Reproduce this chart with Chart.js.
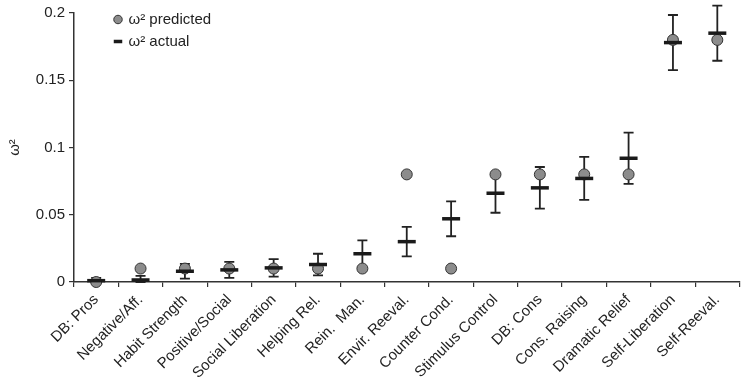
<!DOCTYPE html>
<html>
<head>
<meta charset="utf-8">
<script src="https://cdn.jsdelivr.net/npm/chart.js@4"></script>
<style>
  body { margin: 0; background: #fff; }
  #wrap { width: 752px; height: 387px; }
</style>
</head>
<body>
<div id="wrap"><canvas id="omega" width="752" height="387"></canvas></div>
<script>
var categories = ['DB: Pros', 'Negative/Aff.', 'Habit Strength', 'Positive/Social', 'Social Liberation',
  'Helping Rel.', 'Rein.  Man.', 'Envir. Reeval.', 'Counter Cond.', 'Stimulus Control',
  'DB: Cons', 'Cons. Raising', 'Dramatic Relief', 'Self-Liberation', 'Self-Reeval.'];
var predicted = [0, 0.01, 0.01, 0.01, 0.01, 0.01, 0.01, 0.08, 0.01, 0.08, 0.08, 0.08, 0.08, 0.18, 0.18];
var actual = [0.001, 0.0015, 0.008, 0.009, 0.0105, 0.013, 0.021, 0.030, 0.047, 0.066, 0.070, 0.077, 0.092, 0.178, 0.185];
var actualErr = [0.002, 0.003, 0.0055, 0.006, 0.0065, 0.008, 0.010, 0.011, 0.013, 0.0145, 0.0155, 0.016, 0.019, 0.0205, 0.0205];
var yTicks = [0, 0.05, 0.1, 0.15, 0.2];

var ink = '#222';
var fam = 'Liberation Sans, Arial, sans-serif';

// error bars on the actual values, drawn under the markers
var errorBars = {
  id: 'errorBars',
  beforeDatasetsDraw: function(chart) {
    var meta = chart.getDatasetMeta(0);
    var y = chart.scales.y;
    var ctx = chart.ctx;
    ctx.save();
    ctx.strokeStyle = ink;
    ctx.lineWidth = 1.8;
    meta.data.forEach(function(pt, i) {
      var top = y.getPixelForValue(actual[i] + actualErr[i]);
      var bot = y.getPixelForValue(Math.max(0, actual[i] - actualErr[i]));
      ctx.beginPath();
      ctx.moveTo(pt.x, top); ctx.lineTo(pt.x, bot);
      ctx.moveTo(pt.x - 5, top); ctx.lineTo(pt.x + 5, top);
      ctx.moveTo(pt.x - 5, bot); ctx.lineTo(pt.x + 5, bot);
      ctx.stroke();
    });
    ctx.restore();
  }
};

// move the legend box a bit into the plot
var legendShift = {
  id: 'legendShift',
  afterLayout: function(chart) {
    if (chart.legend) {
      chart.legend.left += 34;
      chart.legend.top += 5;
    }
  }
};

new Chart(document.getElementById('omega'), {
  type: 'line',
  data: {
    labels: categories,
    datasets: [
      {
        label: 'ω² actual',
        data: actual,
        showLine: false,
        clip: false,
        pointStyle: 'line',
        pointRadius: 9,
        pointHoverRadius: 9,
        pointBorderWidth: 3.5,
        borderWidth: 3.5,
        borderColor: '#1a1a1a',
        backgroundColor: '#1a1a1a'
      },
      {
        label: 'ω² predicted',
        data: predicted,
        showLine: false,
        clip: false,
        pointStyle: 'circle',
        pointRadius: 5.5,
        pointHoverRadius: 5.5,
        pointBorderWidth: 1,
        borderWidth: 1,
        borderColor: '#333',
        backgroundColor: '#8c8c8c'
      }
    ]
  },
  options: {
    responsive: false,
    animation: false,
    layout: { padding: { top: 13, right: 4, left: 0, bottom: 0 } },
    plugins: {
      tooltip: { enabled: false },
      legend: {
        position: 'chartArea',
        align: 'start',
        reverse: true,
        labels: {
          usePointStyle: true,
          boxWidth: 6,
          boxHeight: 6,
          padding: 7,
          color: ink,
          font: { family: fam, size: 15 }
        }
      }
    },
    scales: {
      x: {
        offset: true,
        grid: { offset: true, drawOnChartArea: false, drawTicks: true, tickLength: 5, color: '#333', lineWidth: 1.2 },
        border: { display: true, color: '#333', width: 1.5 },
        ticks: {
          autoSkip: false,
          minRotation: 45,
          maxRotation: 45,
          padding: 4,
          color: ink,
          font: { family: fam, size: 15 }
        },
        afterFit: function(s) { s.height = 105; }
      },
      y: {
        min: 0,
        max: 0.2,
        afterBuildTicks: function(s) { s.ticks = yTicks.map(function(v) { return { value: v }; }); },
        grid: { drawOnChartArea: false, drawTicks: true, tickLength: 5, color: '#333', lineWidth: 1.2 },
        border: { display: true, color: '#333', width: 1.5 },
        ticks: {
          padding: 4,
          color: ink,
          font: { family: fam, size: 15 },
          callback: function(v) { return String(+v.toFixed(2)); }
        },
        title: {
          display: true,
          text: 'ω²',
          color: ink,
          padding: { top: 6, bottom: 0 },
          font: { family: fam, size: 15 }
        },
        afterFit: function(s) { s.width = 74; }
      }
    }
  },
  plugins: [errorBars, legendShift]
});
</script>
</body>
</html>
